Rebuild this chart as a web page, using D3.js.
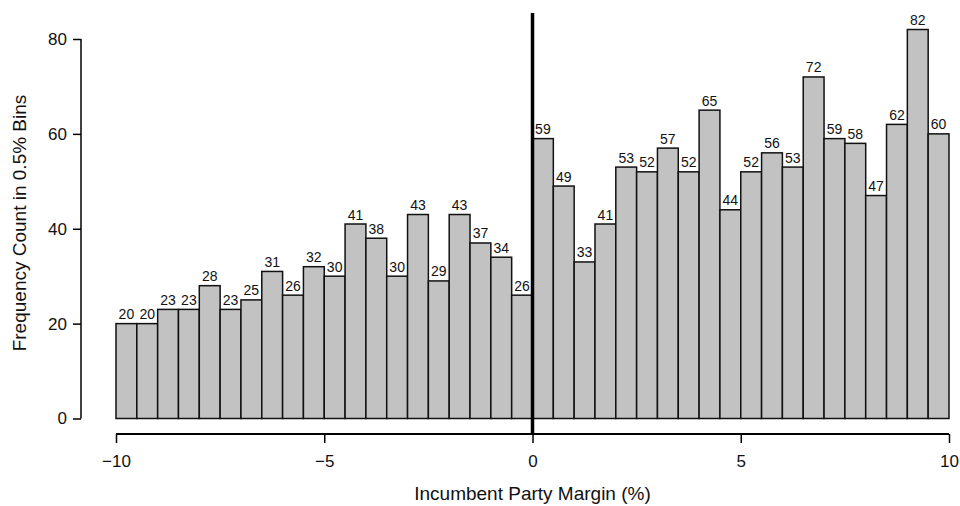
<!DOCTYPE html>
<html>
<head>
<meta charset="utf-8">
<script src="https://cdn.jsdelivr.net/npm/d3@7"></script>
<style>
  body { margin: 0; background: #fff; }
  text { font-family: "Liberation Sans", Arial, sans-serif; fill: #111; }
</style>
</head>
<body>
<div id="chart"></div>
<script>
    const width = 960;
    const height = 506;

    // 0.5% bins from -10 to 10
    const binStarts = d3.range(40).map(i => -10 + i * 0.5);
    const counts = [20, 20, 23, 23, 28, 23, 25, 31, 26, 32, 30, 41, 38, 30, 43, 29, 43, 37, 34, 26,
                    59, 49, 33, 41, 53, 52, 57, 52, 65, 44, 52, 56, 53, 72, 59, 58, 47, 62, 82, 60];
    const xTicks = [-10, -5, 0, 5, 10];
    const yTicks = [0, 20, 40, 60, 80];

    const x = d3.scaleLinear().domain([-10, 10]).range([116, 949]);
    const y = d3.scaleLinear().domain([0, 80]).range([418.5, 39]);

    const svg = d3.select('#chart')
      .append('svg')
      .attr('width', width)
      .attr('height', height);

    const data = binStarts.map((b, i) => ({ start: b, count: counts[i] }));

    // Bars
    svg.selectAll('.bar')
      .data(data)
      .join('rect')
        .attr('class', 'bar')
        .attr('x', d => x(d.start))
        .attr('y', d => y(d.count))
        .attr('width', d => x(d.start + 0.5) - x(d.start))
        .attr('height', d => y(0) - y(d.count))
        .attr('fill', '#c2c2c2')
        .attr('stroke', '#111')
        .attr('stroke-width', 1.5);

    // Count labels
    svg.selectAll('.lbl')
      .data(data)
      .join('text')
        .attr('class', 'lbl')
        .attr('x', d => x(d.start + 0.25))
        .attr('y', d => y(d.count) - 4.5)
        .attr('text-anchor', 'middle')
        .attr('font-size', 14)
        .text(d => d.count);

    // Cutoff line at 0
    svg.append('line')
      .attr('x1', x(0)).attr('x2', x(0))
      .attr('y1', 13).attr('y2', 434)
      .attr('stroke', '#000')
      .attr('stroke-width', 3.5);

    // Y axis (R-style)
    const yAxis = svg.append('g')
      .attr('transform', 'translate(81,0)')
      .call(d3.axisLeft(y).tickValues(yTicks).tickSize(8).tickPadding(6));
    yAxis.select('.domain').attr('stroke-width', 1.5).attr('d', `M0,${y(0)}V${y(80)}`);
    yAxis.selectAll('.tick line').attr('stroke-width', 1.5);
    yAxis.selectAll('.tick text').attr('font-size', 17).style('font-family', '"Liberation Sans", Arial, sans-serif').attr('fill', '#111');

    // X axis
    const xAxis = svg.append('g')
      .attr('transform', 'translate(0,434)')
      .call(d3.axisBottom(x).tickValues(xTicks).tickSize(9).tickPadding(12)
        .tickFormat(d => d < 0 ? '\u2212' + Math.abs(d) : d));
    xAxis.select('.domain').attr('stroke-width', 2).attr('d', `M${x(-10)},0H${x(10)}`);
    xAxis.selectAll('.tick line').attr('stroke-width', 1.5);
    xAxis.selectAll('.tick text').attr('font-size', 17).style('font-family', '"Liberation Sans", Arial, sans-serif').attr('fill', '#111');

    // Axis titles
    svg.append('text')
      .attr('x', x(0))
      .attr('y', 500)
      .attr('text-anchor', 'middle')
      .attr('font-size', 19)
      .text('Incumbent Party Margin (%)');

    svg.append('text')
      .attr('transform', 'translate(26,223) rotate(-90)')
      .attr('text-anchor', 'middle')
      .attr('font-size', 19)
      .text('Frequency Count in 0.5% Bins');
</script>
</body>
</html>
